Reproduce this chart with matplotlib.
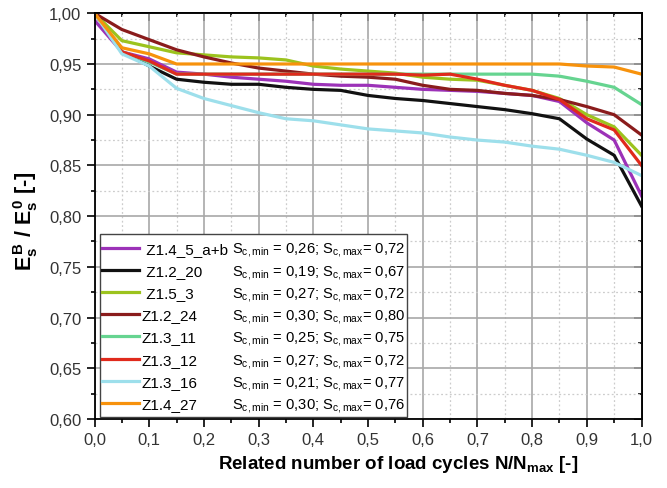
import numpy as np
import matplotlib.pyplot as plt
from matplotlib.lines import Line2D
from matplotlib.legend_handler import HandlerLine2D
from matplotlib.ticker import MultipleLocator, FuncFormatter

plt.rcParams['font.family'] = ['Liberation Sans', 'DejaVu Sans']
plt.rcParams['mathtext.fontset'] = 'custom'
plt.rcParams['mathtext.rm'] = 'Liberation Sans'
plt.rcParams['mathtext.it'] = 'Liberation Sans:italic'
plt.rcParams['mathtext.bf'] = 'Liberation Sans:bold'

# related number of load cycles
n_rel = [0.0, 0.05, 0.1, 0.15, 0.2, 0.25, 0.3, 0.35, 0.4, 0.45, 0.5,
         0.55, 0.6, 0.65, 0.7, 0.75, 0.8, 0.85, 0.9, 0.95, 1.0]

# stiffness ratio E_s^B / E_s^0 per specimen
z14_5ab = [0.993, 0.962, 0.955, 0.942, 0.940, 0.937, 0.935, 0.933, 0.930, 0.929, 0.929,
           0.927, 0.925, 0.924, 0.923, 0.921, 0.919, 0.913, 0.892, 0.875, 0.820]
z12_20 = [1.000, 0.962, 0.948, 0.935, 0.932, 0.930, 0.930, 0.927, 0.925, 0.924, 0.919,
          0.916, 0.914, 0.911, 0.908, 0.905, 0.901, 0.896, 0.876, 0.860, 0.810]
z15_3 = [1.000, 0.973, 0.967, 0.961, 0.959, 0.957, 0.956, 0.954, 0.948, 0.945, 0.943,
         0.941, 0.937, 0.935, 0.934, 0.929, 0.924, 0.916, 0.900, 0.888, 0.860]
z12_24 = [1.000, 0.984, 0.974, 0.964, 0.957, 0.951, 0.946, 0.943, 0.940, 0.938, 0.937,
          0.935, 0.929, 0.925, 0.924, 0.921, 0.919, 0.915, 0.908, 0.900, 0.880]
z13_11 = [1.000, 0.962, 0.952, 0.940, 0.940, 0.940, 0.940, 0.940, 0.940, 0.940, 0.940,
          0.940, 0.940, 0.940, 0.940, 0.940, 0.940, 0.938, 0.933, 0.927, 0.910]
z13_12 = [1.000, 0.962, 0.953, 0.940, 0.940, 0.940, 0.940, 0.940, 0.940, 0.940, 0.940,
          0.940, 0.939, 0.940, 0.935, 0.929, 0.924, 0.915, 0.896, 0.885, 0.850]
z13_16 = [1.000, 0.960, 0.948, 0.926, 0.916, 0.909, 0.902, 0.896, 0.894, 0.890, 0.886,
          0.884, 0.882, 0.878, 0.875, 0.873, 0.869, 0.866, 0.860, 0.853, 0.840]
z14_27 = [1.000, 0.966, 0.960, 0.950, 0.950, 0.950, 0.950, 0.950, 0.950, 0.950, 0.950,
          0.950, 0.950, 0.950, 0.950, 0.950, 0.950, 0.950, 0.948, 0.947, 0.940]

names = [' Z1.4_5_a+b', ' Z1.2_20', ' Z1.5_3', 'Z1.2_24', 'Z1.3_11', 'Z1.3_12', 'Z1.3_16', 'Z1.4_27']
sc_min = ['0,26', '0,19', '0,27', '0,30', '0,25', '0,27', '0,21', '0,30']
sc_max = ['0,72', '0,67', '0,72', '0,80', '0,75', '0,72', '0,77', '0,76']
series = [z14_5ab, z12_20, z15_3, z12_24, z13_11, z13_12, z13_16, z14_27]
colors = ['#9c32b8', '#111111', '#9cc31e', '#8a1c1c', '#66d490', '#e02a1c', '#9ddfeb', '#f7920c']


class LowLine(HandlerLine2D):
    # legend line sitting at the middle of the label text
    def create_artists(self, legend, orig_handle, xdescent, ydescent,
                       width, height, fontsize, trans):
        arts = super().create_artists(legend, orig_handle, xdescent, ydescent,
                                      width, height, fontsize, trans)
        for a in arts:
            a.set_ydata(np.asarray(a.get_ydata()) - 0.22 * fontsize)
        return arts


fig = plt.figure(figsize=(6.67, 4.89), dpi=100)
ax = fig.add_axes([0.1417, 0.1411, 0.8201, 0.8297])

lines = []
for name, vals, col in zip(names, series, colors):
    ln, = ax.plot(n_rel, vals, color=col, lw=2.3, label=name)
    lines.append(ln)

ax.set_xlim(0, 1.0)
ax.set_ylim(0.6, 1.0)
ax.xaxis.set_major_locator(MultipleLocator(0.1))
ax.xaxis.set_minor_locator(MultipleLocator(0.05))
ax.yaxis.set_major_locator(MultipleLocator(0.05))
ax.yaxis.set_minor_locator(MultipleLocator(0.025))
ax.xaxis.set_major_formatter(FuncFormatter(lambda v, p: f'{v:.1f}'.replace('.', ',')))
ax.yaxis.set_major_formatter(FuncFormatter(lambda v, p: f'{v:.2f}'.replace('.', ',')))

ax.grid(which='major', color='#a8a8a8', lw=1.2, ls='-')
ax.grid(which='minor', color='#cccccc', lw=0.9, ls=(0, (1.5, 2)))
ax.set_axisbelow(True)

ax.tick_params(which='both', direction='out', top=False, right=False,
               labelsize=12, labelcolor='#333333', width=1.2)
ax.tick_params(which='major', length=6)
ax.tick_params(which='minor', length=3)

# inward ticks on top and right without labels
top = ax.secondary_xaxis('top')
top.xaxis.set_major_locator(MultipleLocator(0.1))
top.xaxis.set_minor_locator(MultipleLocator(0.05))
top.set_xticklabels([])
right = ax.secondary_yaxis('right')
right.yaxis.set_major_locator(MultipleLocator(0.05))
right.yaxis.set_minor_locator(MultipleLocator(0.025))
right.set_yticklabels([])
for sec in (top, right):
    sec.tick_params(which='both', direction='in', width=1.2)
    sec.tick_params(which='major', length=6)
    sec.tick_params(which='minor', length=3)
top.spines['top'].set_linewidth(1.3)
right.spines['right'].set_linewidth(1.3)
for sp in ax.spines.values():
    sp.set_linewidth(1.3)

ax.set_xlabel(r'Related number of load cycles N/N$_{\mathbf{max}}$ [-]',
              fontsize=13.5, fontweight='bold')
ax.xaxis.set_label_coords(0.555, -0.085)
ax.set_ylabel(r'$\mathbf{E_s^{\,B}\ /\ E_s^{\,0}}$ [-]',
              fontsize=15.5, fontweight='bold')
ax.yaxis.set_label_coords(-0.1, 0.49)

# two-column legend: specimen name, then stress levels
blank = [Line2D([], [], color='none') for _ in names]
stress = [r'S$_{\rm c,min}$ = %s; S$_{\rm c,max}$= %s' % (a, b) for a, b in zip(sc_min, sc_max)]
leg = ax.legend(lines + blank, names + stress, ncol=2, loc='lower left',
                bbox_to_anchor=(0.01, 0.004), borderaxespad=0, fontsize=11,
                handlelength=2.4, handleheight=2.0, handletextpad=0.2,
                columnspacing=-2.35, labelspacing=-0.09, borderpad=0.15,
                fancybox=False, framealpha=1, edgecolor='#444444',
                handler_map={Line2D: LowLine()})
leg.get_frame().set_linewidth(1.0)
for t in leg.get_texts()[len(names):]:
    t.set_fontsize(10.6)

fig.savefig('out.png', dpi=100)
